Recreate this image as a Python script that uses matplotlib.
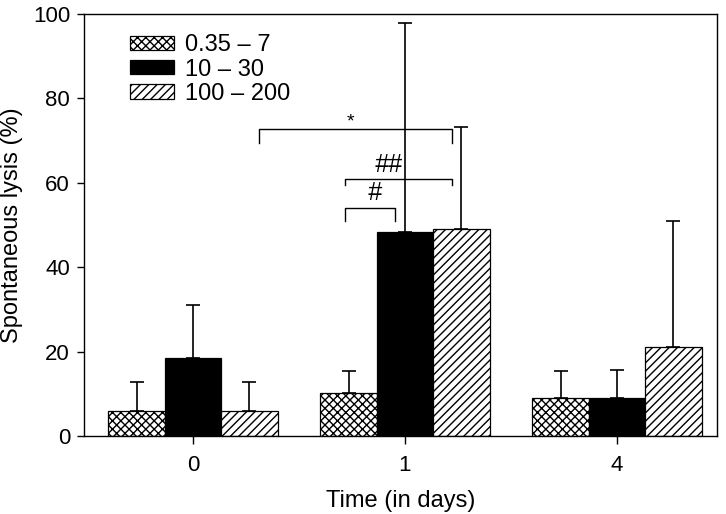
import matplotlib
matplotlib.use('Agg')
import matplotlib.pyplot as plt
from matplotlib.patches import Patch
import numpy as np

plt.rcParams.update({
    'font.family': ['Liberation Sans', 'DejaVu Sans'],
    'font.size': 16,
    'hatch.linewidth': 1.0,
})

# data
days = ['0', '1', '4']
groups = ['0.35 \u2013 7', '10 \u2013 30', '100 \u2013 200']
means = {
    '0.35 \u2013 7': [6.0, 10.3, 8.9],
    '10 \u2013 30': [18.4, 48.3, 9.0],
    '100 \u2013 200': [6.0, 49.1, 21.0],
}
errs = {
    '0.35 \u2013 7': [6.7, 5.2, 6.6],
    '10 \u2013 30': [12.6, 49.5, 6.6],
    '100 \u2013 200': [6.7, 24.2, 30.0],
}
hatches = ['xxxx', None, '////']
faces = ['white', 'black', 'white']

# significance brackets: (x_left, x_right, y, drop_left, drop_right, label, label_x, label_y)
brackets = [
    (0.31, 1.22, 72.7, 3.2, 3.2, '*', 0.745, 74.4),
    (0.717, 1.22, 60.9, 1.5, 1.5, '##', 0.92, 64.2),
    (0.717, 0.953, 54.1, 3.1, 3.1, '#', 0.855, 57.6),
]

fig = plt.figure(figsize=(7.26, 5.14), dpi=100)
ax = fig.add_axes([0.1157, 0.1518, 0.8719, 0.821])

x = np.arange(len(days))
w = 0.266
for i, g in enumerate(groups):
    pos = x + (i - 1) * w
    ax.bar(pos, means[g], width=w, color=faces[i], edgecolor='black',
           linewidth=0.9, hatch=hatches[i], zorder=2)
    ax.errorbar(pos, means[g], yerr=[np.zeros(len(days)), errs[g]], fmt='none',
                ecolor='black', elinewidth=1.2, capsize=4.7, capthick=1.2, zorder=3)

for xl, xr, y, dl, dr, lab, lx, ly in brackets:
    ax.plot([xl, xl, xr, xr], [y - dl, y, y, y - dr], color='black', lw=1.0, zorder=1)
    if lab == '*':
        ax.text(lx, ly, lab, ha='center', va='center', fontsize=14)
    else:
        ax.text(lx, ly, lab, ha='center', va='center', fontsize=18, style='italic')

ax.set_xlim(-0.514, 2.472)
ax.set_ylim(0, 100)
ax.set_xticks(x)
ax.set_xticklabels(days)
ax.set_yticks(range(0, 101, 20))
ax.tick_params(axis='x', direction='out', length=6, width=1.0, pad=8)
ax.tick_params(axis='y', direction='out', length=5, width=1.0, pad=5)
for s in ax.spines.values():
    s.set_linewidth(1.0)
ax.set_xlabel('Time (in days)', fontsize=17, labelpad=10)
ax.set_ylabel('Spontaneous lysis (%)', fontsize=17, labelpad=7)

handles = [Patch(facecolor=faces[i], edgecolor='black', hatch=hatches[i], linewidth=0.9)
           for i in range(3)]
ax.legend(handles, groups, loc='upper left', bbox_to_anchor=(0.073, 0.952),
          frameon=False, borderpad=0, borderaxespad=0, handlelength=1.86,
          handleheight=0.55, labelspacing=0.1, handletextpad=0.47, fontsize=17)

fig.savefig('out.png', dpi=100)
